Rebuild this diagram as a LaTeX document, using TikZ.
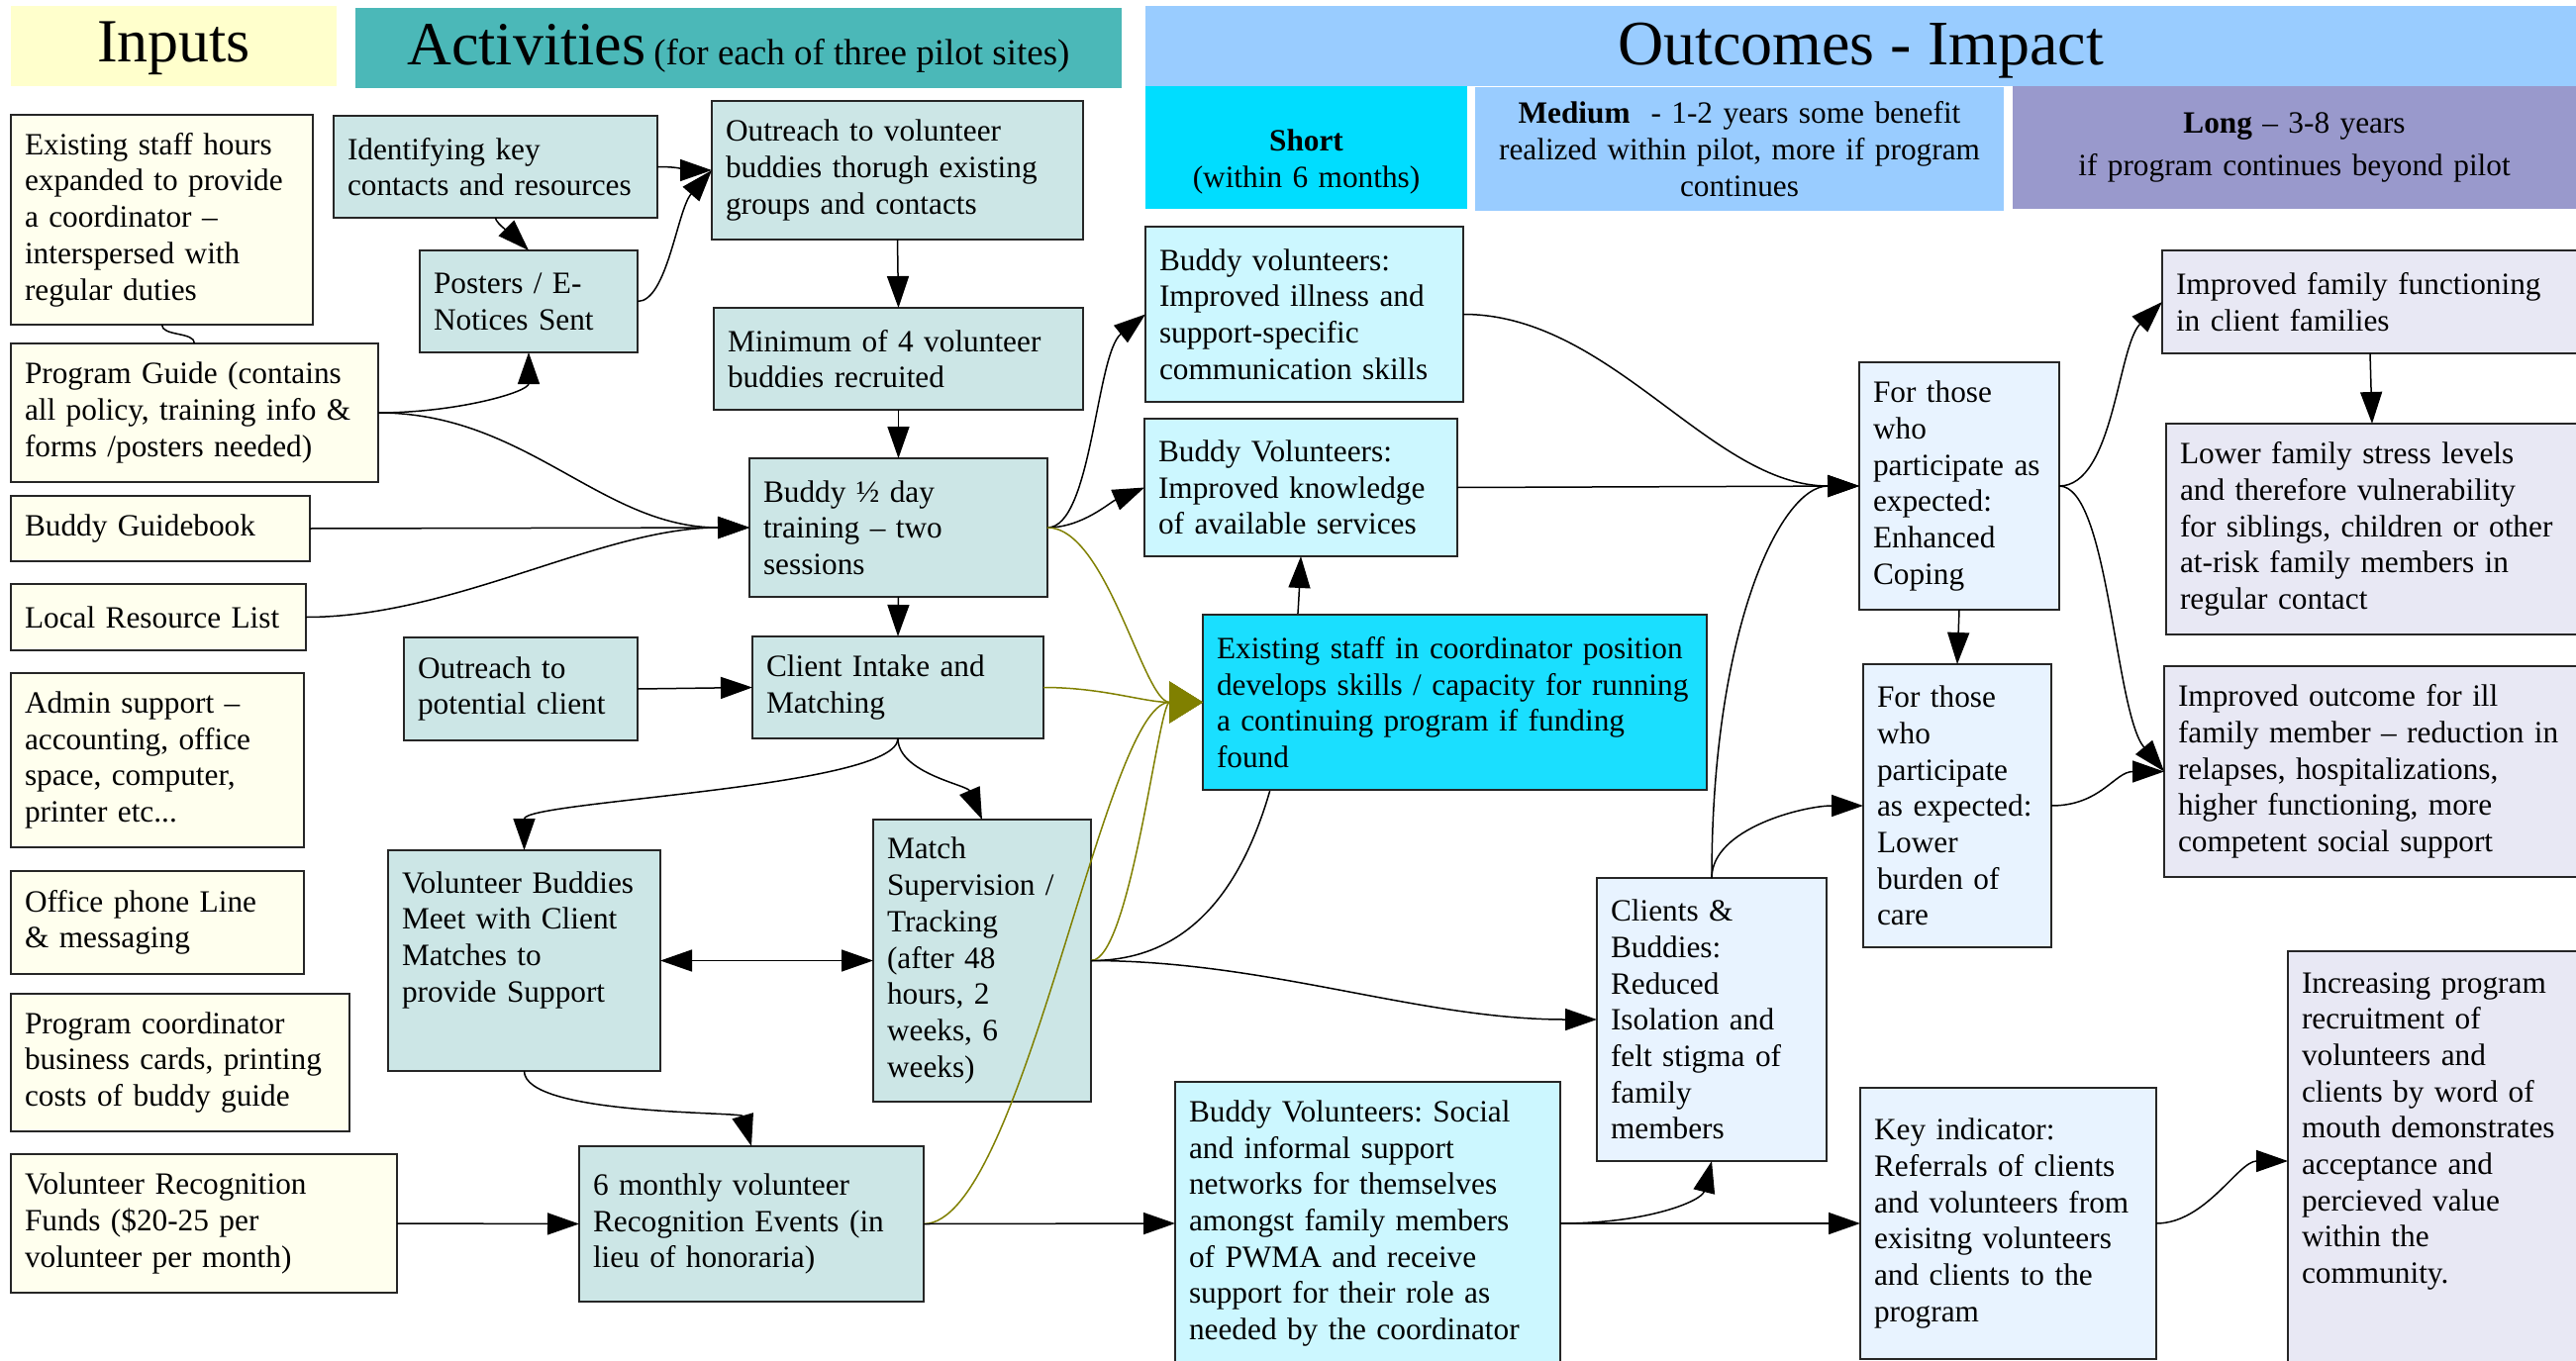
\documentclass[tikz,border=0pt]{standalone}
\usepackage{fontspec}
\setmainfont{Liberation Serif}
\usepackage{tikz}
\usetikzlibrary{arrows.meta}
\frenchspacing

\definecolor{inputhead}{HTML}{FFFFCC}
\definecolor{activityhead}{HTML}{4BB8B8}
\definecolor{outcomehead}{HTML}{99CCFF}
\definecolor{shorthead}{HTML}{00DDFF}
\definecolor{longhead}{HTML}{9999CC}
\definecolor{inputfill}{HTML}{FFFFEE}
\definecolor{activityfill}{HTML}{CCE6E6}
\definecolor{shortfill}{HTML}{CCF7FF}
\definecolor{stafffill}{HTML}{1ADFFF}
\definecolor{mediumfill}{HTML}{E8F3FF}
\definecolor{longfill}{HTML}{E8E8F4}
\definecolor{olivelink}{HTML}{808000}

\begin{document}
\begin{tikzpicture}
[
    x = 1pt, y = -1pt,   % pixel grid, y grows downwards
    every node/.style = {draw = black!85, line width = 2pt, rectangle, anchor = north west,
                         outer sep = 0pt, inner xsep = 14pt, inner ysep = 6pt, align = left,
                         font = \fontsize{31.3}{36.7}\selectfont},
    BoxSize/.style n args = {3}{minimum width = #1pt, minimum height = #2pt, text width = #3pt},
    Link/.style     = {line width = 1.5pt, -{Triangle[length = 32pt, width = 22pt]}},
    TwoLink/.style  = {line width = 1.5pt, {Triangle[length = 32pt, width = 22pt]}-{Triangle[length = 32pt, width = 22pt]}},
    OliveLink/.style = {line width = 1.5pt, draw = olivelink, -{Triangle[length = 34pt, width = 42pt]}},
    Plain/.style    = {line width = 1.5pt}
  ]

  \tikzset{HeadStyle/.style     = {draw = none, align = center, inner sep = 0pt},
           InputStyle/.style    = {fill = inputfill},
           ActivityStyle/.style = {fill = activityfill},
           ShortStyle/.style    = {fill = shortfill},
           StaffStyle/.style    = {fill = stafffill},
           MediumStyle/.style   = {fill = mediumfill},
           LongStyle/.style     = {fill = longfill}}

  \fill[white] (0,0) rectangle (2602,1375);
  \useasboundingbox (0,0) rectangle (2602,1375);

  % column heads
  \node[HeadStyle, fill = inputhead, minimum width = 329pt, minimum height = 81pt, text depth = 8pt] (hIn) at (11,6)
       {\fontsize{62}{70}\selectfont Inputs};
  \node[HeadStyle, fill = activityhead, minimum width = 774pt, minimum height = 81pt] (hAct) at (359,8)
       {{\fontsize{62}{70}\selectfont Activities} {\fontsize{37}{42}\selectfont (for each of three pilot sites)}};
  \node[HeadStyle, fill = outcomehead, minimum width = 1445pt, minimum height = 81pt, text depth = 4pt] (hOut) at (1157,6)
       {\fontsize{64}{72}\selectfont Outcomes - Impact};
  \node[HeadStyle, fill = shorthead, minimum width = 325pt, minimum height = 124pt, text width = 297pt,
        text height = 40pt, text depth = 32pt] (hShort) at (1157,87)
       {\textbf{Short}\\(within 6 months)};
  \node[HeadStyle, fill = outcomehead, minimum width = 534pt, minimum height = 125pt, text width = 506pt] (hMed) at (1490,88)
       {\textbf{Medium}\ \ - 1-2 years some benefit\\realized within pilot, more if program\\continues};
  \node[HeadStyle, fill = longhead, minimum width = 569pt, minimum height = 124pt, text width = 541pt] (hLong) at (2033,87)
       {\textbf{Long} – 3-8 years\\[6pt]if program continues beyond pilot};

  % inputs
  \node[InputStyle, BoxSize = {305}{212}{277}] (i1) at (11,116)
       {Existing staff hours\\expanded to provide\\a coordinator –\\interspersed with\\regular duties};
  \node[InputStyle, BoxSize = {371}{140}{343}] (i2) at (11,347)
       {Program Guide (contains\\all policy, training info \&\\forms /posters needed)};
  \node[InputStyle, BoxSize = {302}{66}{274}] (i3) at (11,501) {Buddy Guidebook};
  \node[InputStyle, BoxSize = {298}{67}{270}] (i4) at (11,590) {Local Resource List};
  \node[InputStyle, BoxSize = {296}{176}{268}] (i5) at (11,680)
       {Admin support –\\accounting, office\\space, computer,\\printer etc...};
  \node[InputStyle, BoxSize = {296}{104}{268}] (i6) at (11,880)
       {Office phone Line\\\& messaging};
  \node[InputStyle, BoxSize = {342}{139}{314}] (i7) at (11,1004)
       {Program coordinator\\business cards, printing\\costs of buddy guide};
  \node[InputStyle, BoxSize = {390}{140}{362}] (i8) at (11,1166)
       {Volunteer Recognition\\Funds (\$20-25 per\\volunteer per month)};

  % activities
  \node[ActivityStyle, BoxSize = {327}{103}{299}] (a1) at (337,117)
       {Identifying key\\contacts and resources};
  \node[ActivityStyle, BoxSize = {375}{140}{347}] (a2) at (719,102)
       {Outreach to volunteer\\buddies thorugh existing\\groups and contacts};
  \node[ActivityStyle, BoxSize = {220}{103}{192}] (a3) at (424,253)
       {Posters / E-\\Notices Sent};
  \node[ActivityStyle, BoxSize = {373}{103}{345}] (a4) at (721,311)
       {Minimum of 4 volunteer\\buddies recruited};
  \node[ActivityStyle, BoxSize = {301}{140}{273}] (a5) at (757,463)
       {Buddy ½ day\\training – two\\sessions};
  \node[ActivityStyle, BoxSize = {236}{104}{208}] (a6) at (408,644)
       {Outreach to\\potential client};
  \node[ActivityStyle, BoxSize = {294}{103}{266}] (a7) at (760,643)
       {Client Intake and\\Matching};
  \node[ActivityStyle, BoxSize = {275}{223}{247}, text height = 28pt, text depth = 165pt] (a8) at (392,859)
       {Volunteer Buddies\\Meet with Client\\Matches to\\provide Support};
  \node[ActivityStyle, BoxSize = {220}{285}{192}] (a9) at (882,828)
       {Match\\Supervision /\\Tracking\\(after 48\\hours, 2\\weeks, 6\\weeks)};
  \node[ActivityStyle, BoxSize = {348}{157}{320}] (a10) at (585,1158)
       {6 monthly volunteer\\Recognition Events (in\\lieu of honoraria)};

  % short term
  \node[ShortStyle, BoxSize = {321}{177}{293}] (s1) at (1157,229)
       {Buddy volunteers:\\Improved illness and\\support-specific\\communication skills};
  \node[ShortStyle, BoxSize = {316}{139}{288}] (s2) at (1156,423)
       {Buddy Volunteers:\\Improved knowledge\\of available services};
  \node[ShortStyle, BoxSize = {389}{286}{361}] (s3) at (1187,1093)
       {Buddy Volunteers: Social\\and informal support\\networks for themselves\\amongst family members\\of PWMA and receive\\support for their role as\\needed by the coordinator};

  % medium term
  \node[MediumStyle, BoxSize = {202}{250}{174}] (m1) at (1878,366)
       {For those\\who\\participate as\\expected:\\Enhanced\\Coping};
  \node[MediumStyle, BoxSize = {190}{286}{162}] (m2) at (1882,671)
       {For those\\who\\participate\\as expected:\\Lower\\burden of\\care};
  \node[MediumStyle, BoxSize = {232}{286}{204}] (m3) at (1613,887)
       {Clients \&\\Buddies:\\Reduced\\Isolation and\\felt stigma of\\family\\members};
  \node[MediumStyle, BoxSize = {299}{274}{271}] (m4) at (1879,1099)
       {Key indicator:\\Referrals of clients\\and volunteers from\\exisitng volunteers\\and clients to the\\program};

  % long term
  \node[LongStyle, BoxSize = {420}{104}{392}] (l1) at (2184,253)
       {Improved family functioning\\in client families};
  \node[LongStyle, BoxSize = {416}{213}{388}] (l2) at (2188,428)
       {Lower family stress levels\\and therefore vulnerability\\for siblings, children or other\\at-risk family members in\\regular contact};
  \node[LongStyle, BoxSize = {418}{213}{390}] (l3) at (2186,673)
       {Improved outcome for ill\\family member – reduction in\\relapses, hospitalizations,\\higher functioning, more\\competent social support};
  \node[LongStyle, BoxSize = {293}{424}{265}, text height = 28pt, text depth = 368pt] (l4) at (2311,961)
       {Increasing program\\recruitment of\\volunteers and\\clients by word of\\mouth demonstrates\\acceptance and\\percieved value\\within the\\community.};

  % runs behind the staff box
  \draw[Link] (a9.east) .. controls +(128,0) and +(-14,288) .. (s2.south);

  \node[StaffStyle, BoxSize = {509}{177}{481}] (o1) at (1215,621)
       {Existing staff in coordinator position\\develops skills / capacity for running\\a continuing program if funding\\found};

  % inputs to activities
  \draw[Plain] (i1.south) .. controls +(0,12) and +(0,-12) .. (i2.north);
  \draw[Link] (i2.east) .. controls +(80,0) and +(0,40) .. (a3.south);
  \draw[Link] (i2.east) .. controls +(150,0) and +(-150,0) .. (a5.west);
  \draw[Link] (i3.east) -- (a5.west);
  \draw[Link] (i4.east) .. controls +(150,0) and +(-150,0) .. (a5.west);
  \draw[Link] (i8.east) -- (a10.west);

  % activities
  \draw[Link] (a1.east) .. controls +(25,0) and +(-25,0) .. (a2.west);
  \draw[Link] (a1.south) .. controls +(0,6) and +(-12,-12) .. (a3.north);
  \draw[Link] (a3.east) .. controls +(30,0) and +(-35,40) .. (a2.west);
  \draw[Link] (a2.south) -- (a4.north);
  \draw[Link] (a4.south) -- (a5.north);
  \draw[Link] (a5.south) -- (a7.north);
  \draw[Link] (a6.east) -- (a7.west);
  \draw[Link] (a7.south) .. controls +(0,50) and +(0,-50) .. (a8.north);
  \draw[Link] (a7.south) .. controls +(0,35) and +(-15,-35) .. (a9.north);
  \draw[TwoLink] (a8.east) -- (a9.west);
  \draw[Link] (a8.south) .. controls +(0,45) and +(-10,-35) .. (a10.north);

  % activities to outcomes
  \draw[Link] (a5.east) .. controls +(45,0) and +(-50,40) .. (s1.west);
  \draw[Link] (a5.east) .. controls +(35,0) and +(-35,15) .. (s2.west);
  \draw[OliveLink] (a5.east) .. controls +(60,0) and +(-60,0) .. (o1.west);
  \draw[OliveLink] (a7.east) .. controls +(60,0) and +(-60,0) .. (o1.west);
  \draw[OliveLink] (a9.east) .. controls +(40,0) and +(-45,0) .. (o1.west);
  \draw[OliveLink] (a10.east) .. controls +(100,0) and +(-100,0) .. (o1.west);
  \draw[Link] (a9.east) .. controls +(180,0) and +(-180,0) .. (m3.west);
  \draw[Link] (a10.east) -- (s3.west);

  % outcomes
  \draw[Link] (s1.east) .. controls +(150,0) and +(-150,0) .. (m1.west);
  \draw[Link] (s2.east) -- (m1.west);
  \draw[Link] (s3.east) .. controls +(90,0) and +(-10,40) .. (m3.south);
  \draw[Link] (s3.east) -- (m4.west);
  \draw[Link] (m3.north) .. controls +(0,-250) and +(-80,0) .. (m1.west);
  \draw[Link] (m3.north) .. controls +(0,-50) and +(-60,0) .. (m2.west);
  \draw[Link] (m1.south) -- (m2.north);
  \draw[Link] (m1.east) .. controls +(55,0) and +(-45,45) .. (l1.west);
  \draw[Link] (m1.east) .. controls +(50,0) and +(-50,-60) .. (l3.west);
  \draw[Link] (m2.east) .. controls +(50,0) and +(-50,0) .. (l3.west);
  \draw[Link] (l1.south) -- (l2.north);
  \draw[Link] (m4.east) .. controls +(50,0) and +(-50,0) .. (l4.west);

\end{tikzpicture}
\end{document}
